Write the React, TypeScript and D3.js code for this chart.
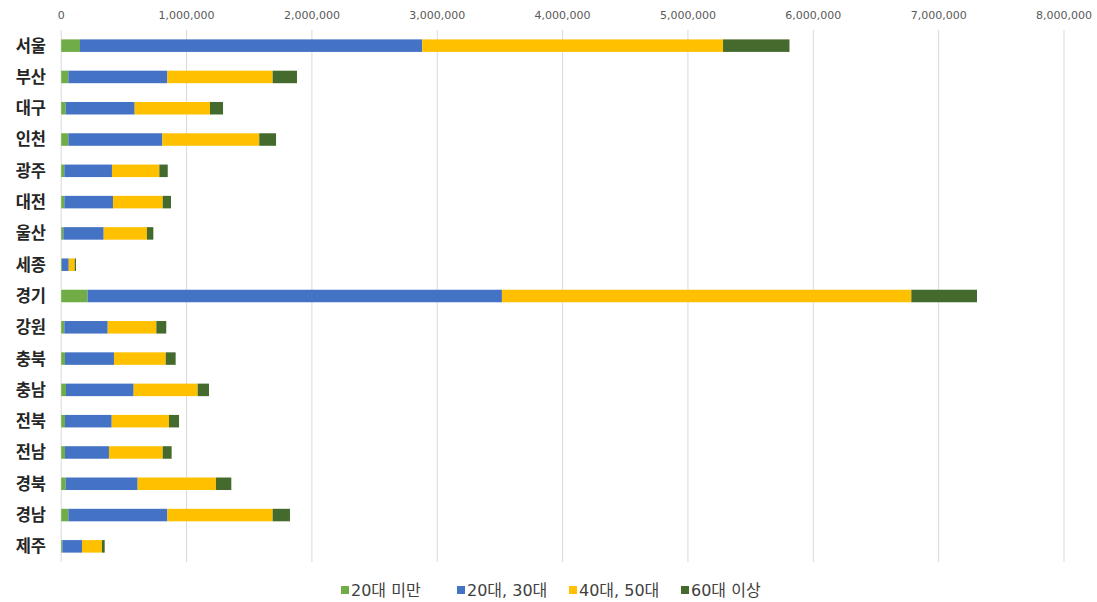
import React, { useEffect, useRef } from "react";
import * as d3 from "d3";

// Regions (top to bottom)
const regions = [
  "서울", "부산", "대구", "인천", "광주", "대전", "울산", "세종", "경기",
  "강원", "충북", "충남", "전북", "전남", "경북", "경남", "제주",
];

// Age-group series
const seriesNames = ["20대 미만", "20대, 30대", "40대, 50대", "60대 이상"];
const under20 = [150000, 57000, 36000, 57000, 25000, 25000, 17000, 6000, 211000, 25000, 30000, 38000, 30000, 30000, 36000, 57000, 9000];
const age20s30s = [2730000, 790000, 550000, 750000, 380000, 388000, 322000, 54000, 3305000, 346000, 391000, 540000, 373000, 351000, 574000, 790000, 157000];
const age40s50s = [2400000, 840000, 601000, 773000, 378000, 397000, 345000, 48000, 3266000, 388000, 413000, 511000, 457000, 429000, 625000, 840000, 159000];
const over60 = [530000, 194000, 104000, 134000, 67000, 66000, 51000, 10000, 524000, 79000, 79000, 90000, 80000, 71000, 122000, 138000, 22000];

const axisTicks = [0, 1000000, 2000000, 3000000, 4000000, 5000000, 6000000, 7000000, 8000000];
const colors = ["#70AD47", "#4472C4", "#FFC000", "#446B2D"];

const W = 1097;
const H = 602;
const FONT = "'Noto Sans CJK KR', 'Noto Sans', sans-serif";
const NUM_FONT = "'DejaVu Sans', 'Noto Sans CJK KR', sans-serif";

export default function App() {
  const ref = useRef<SVGSVGElement | null>(null);

  useEffect(() => {
    const svg = d3.select(ref.current);
    svg.selectAll("*").remove();

    const left = 61.2;
    const right = 1064;
    const top = 30;
    const bottom = 562;

    const x = d3.scaleLinear().domain([0, 8000000]).range([left, right]);
    const y = d3.scaleBand<string>().domain(regions).range([top, bottom]).paddingInner(0.6).paddingOuter(0.3);

    const rows = regions.map((r, i) => ({
      region: r,
      s0: under20[i],
      s1: age20s30s[i],
      s2: age40s50s[i],
      s3: over60[i],
    }));
    const stack = d3.stack<any>().keys(["s0", "s1", "s2", "s3"]);
    const layers = stack(rows);

    // gridlines
    svg.append("g")
      .selectAll("line")
      .data(axisTicks)
      .join("line")
      .attr("x1", (d) => x(d))
      .attr("x2", (d) => x(d))
      .attr("y1", top)
      .attr("y2", bottom)
      .attr("stroke", "#d9d9d9")
      .attr("stroke-width", 1);

    // tick labels
    svg.append("g")
      .selectAll("text")
      .data(axisTicks)
      .join("text")
      .attr("x", (d) => x(d))
      .attr("y", 19)
      .attr("text-anchor", "middle")
      .attr("font-family", NUM_FONT)
      .attr("font-size", 11)
      .attr("fill", "#595959")
      .text((d) => d3.format(",")(d));

    // bars
    svg.append("g")
      .selectAll("g")
      .data(layers)
      .join("g")
      .attr("fill", (_d, i) => colors[i])
      .selectAll("rect")
      .data((d) => d)
      .join("rect")
      .attr("x", (d) => x(d[0]))
      .attr("width", (d) => Math.max(0, x(d[1]) - x(d[0])))
      .attr("y", (d) => y((d.data as any).region)!)
      .attr("height", y.bandwidth());

    // category labels
    svg.append("g")
      .selectAll("text")
      .data(regions)
      .join("text")
      .attr("x", 46)
      .attr("y", (d) => y(d)! + y.bandwidth() / 2)
      .attr("dy", "0.36em")
      .attr("text-anchor", "end")
      .attr("font-family", FONT)
      .attr("font-weight", 700)
      .attr("font-size", 16.5)
      .attr("fill", "#262626")
      .text((d) => d);

    // legend
    const legendX = [341, 457, 569, 681];
    const lg = svg.append("g");
    seriesNames.forEach((name, i) => {
      lg.append("rect")
        .attr("x", legendX[i])
        .attr("y", 586)
        .attr("width", 8)
        .attr("height", 8)
        .attr("fill", colors[i]);
      lg.append("text")
        .attr("x", legendX[i] + 10)
        .attr("y", 590)
        .attr("dy", "0.36em")
        .attr("font-family", NUM_FONT)
        .attr("font-size", 16)
        .attr("fill", "#404040")
        .text(name);
    });
  }, []);

  return (
    <svg
      ref={ref}
      width={W}
      height={H}
      style={{ position: "absolute", left: 0, top: 0, background: "#fff" }}
    />
  );
}
